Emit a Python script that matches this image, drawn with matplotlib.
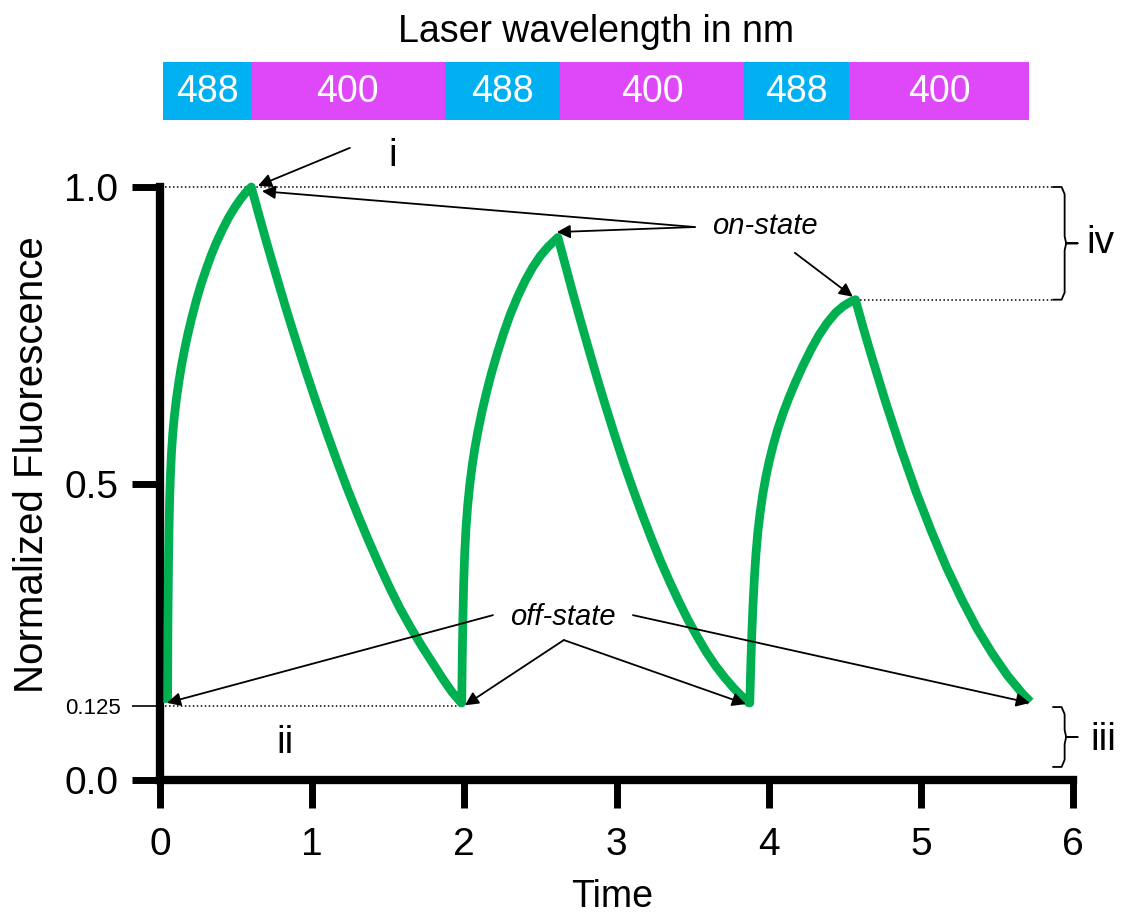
import matplotlib
matplotlib.use('Agg')
import matplotlib.pyplot as plt
import numpy as np

plt.rcParams['font.family'] = ['Liberation Sans', 'DejaVu Sans']

# ---------------- data ----------------
# 488 nm on: fluorescence rises ; 400 nm on: fluorescence decays
rise1_t = [0.050, 0.051, 0.052, 0.054, 0.056, 0.059, 0.063, 0.068, 0.075, 0.084, 0.095, 0.108, 0.123,
           0.140, 0.160, 0.183, 0.210, 0.240, 0.270, 0.300, 0.335, 0.370, 0.410, 0.450, 0.490, 0.530,
           0.565, 0.600]
rise1_f = [0.130, 0.200, 0.260, 0.320, 0.370, 0.420, 0.470, 0.510, 0.550, 0.585, 0.615, 0.643, 0.670,
           0.697, 0.724, 0.752, 0.781, 0.810, 0.836, 0.859, 0.884, 0.906, 0.928, 0.948, 0.965, 0.980,
           0.991, 1.000]
decay1_t = [0.60, 0.65, 0.70, 0.76, 0.82, 0.88, 0.95, 1.02, 1.09, 1.16, 1.23, 1.30, 1.37, 1.44, 1.51,
            1.58, 1.65, 1.72, 1.79, 1.86, 1.92, 1.98]
decay1_f = [1.000, 0.953, 0.907, 0.854, 0.802, 0.752, 0.696, 0.642, 0.590, 0.540, 0.492, 0.447, 0.404,
            0.363, 0.324, 0.288, 0.256, 0.226, 0.198, 0.170, 0.148, 0.130]
rise2_t = [1.983, 1.986, 1.990, 1.995, 2.002, 2.011, 2.022, 2.035, 2.050, 2.068, 2.090, 2.115, 2.143,
           2.175, 2.212, 2.255, 2.300, 2.350, 2.400, 2.450, 2.500, 2.550, 2.590, 2.615]
rise2_f = [0.130, 0.200, 0.265, 0.325, 0.380, 0.425, 0.463, 0.496, 0.527, 0.558, 0.589, 0.620, 0.651,
           0.683, 0.716, 0.751, 0.784, 0.815, 0.842, 0.865, 0.884, 0.899, 0.909, 0.915]
decay2_t = [2.615, 2.66, 2.71, 2.76, 2.81, 2.87, 2.93, 2.99, 3.05, 3.11, 3.17, 3.23, 3.29, 3.35, 3.41,
            3.47, 3.53, 3.59, 3.65, 3.71, 3.77, 3.82, 3.87]
decay2_f = [0.915, 0.872, 0.824, 0.778, 0.733, 0.680, 0.629, 0.580, 0.533, 0.489, 0.447, 0.407, 0.369,
            0.334, 0.301, 0.270, 0.242, 0.216, 0.193, 0.173, 0.155, 0.142, 0.130]
rise3_t = [3.876, 3.882, 3.889, 3.897, 3.906, 3.916, 3.928, 3.943, 3.960, 3.980, 4.003, 4.029, 4.059,
           4.094, 4.134, 4.178, 4.226, 4.278, 4.330, 4.385, 4.440, 4.490, 4.535, 4.570]
rise3_f = [0.130, 0.190, 0.245, 0.295, 0.340, 0.380, 0.416, 0.449, 0.480, 0.509, 0.537, 0.564, 0.591,
           0.618, 0.645, 0.672, 0.699, 0.726, 0.750, 0.771, 0.788, 0.799, 0.806, 0.810]
decay3_t = [4.57, 4.62, 4.67, 4.77, 4.87, 4.97, 5.07, 5.17, 5.27, 5.37, 5.47, 5.57, 5.67, 5.72]
decay3_f = [0.810, 0.764, 0.720, 0.636, 0.558, 0.485, 0.419, 0.358, 0.304, 0.255, 0.213, 0.176, 0.145, 0.132]

laser_edges = [0.02, 0.6, 1.87, 2.63, 3.84, 4.53, 5.71]
laser_labels = ['488', '400', '488', '400', '488', '400']
laser_colors = {'488': '#00B0F0', '400': '#DF48F8'}

x_ticks = [0, 1, 2, 3, 4, 5, 6]
y_ticks = [0.0, 0.5, 1.0]
y_ticklabels = ['0.0', '0.5', '1.0']
off_level = 0.125

GREEN = '#00B050'

fig = plt.figure(figsize=(11.28, 9.16), dpi=100)
ax = fig.add_axes([160/1128, 1-780/916, 913/1128, 593/916])

t = np.concatenate([rise1_t, decay1_t, rise2_t, decay2_t, rise3_t, decay3_t])
f = np.concatenate([rise1_f, decay1_f, rise2_f, decay2_f, rise3_f, decay3_f])
ax.plot(t, f, color=GREEN, lw=6.3, solid_joinstyle='round', solid_capstyle='butt',
        clip_on=False, zorder=3)

ax.set_xlim(0, 6)
ax.set_ylim(0, 1)
for s in ['top', 'right']:
    ax.spines[s].set_visible(False)
for s in ['left', 'bottom']:
    ax.spines[s].set_linewidth(6)

ax.set_xticks(x_ticks)
ax.set_xticklabels([str(v) for v in x_ticks])
ax.set_yticks(y_ticks)
ax.set_yticklabels(y_ticklabels)
ax.set_yticks([off_level], minor=True)
ax.set_yticklabels([str(off_level)], minor=True)
ax.tick_params(axis='both', which='major', direction='out', length=20, width=5, labelsize=28)
ax.tick_params(axis='x', which='major', pad=14)
ax.tick_params(axis='y', which='major', pad=10)
ax.tick_params(axis='y', which='minor', direction='out', length=20, width=1.2, labelsize=16, pad=8)
ax.tick_params(axis='x', which='minor', bottom=False)

fig.text(32/1128, 1-465/916, 'Normalized Fluorescence', rotation=90, ha='center', va='center', fontsize=29)
fig.text(612/1128, 1-897/916, 'Time', ha='center', va='center', fontsize=27)

# dotted reference lines
peak1 = max(rise1_f)
peak3 = max(rise3_f)
dot = dict(ls=(0, (1, 1.6)), lw=1.1, color='black', clip_on=False, zorder=2)
ax.plot([0.03, 5.88], [peak1, peak1], **dot)
ax.plot([4.6, 5.88], [peak3, peak3], **dot)
ax.plot([0.03, 1.98], [off_level, off_level], **dot)

# braces
def brace(top, bot, xl=5.87, xv=5.945, tip=6.03):
    mid = (top + bot) / 2
    d = 0.012
    xs = [xl, xv - 0.02, xv, xv, xv + 0.01, tip, xv + 0.01, xv, xv, xv - 0.02, xl]
    ys = [top, top, top - d, mid + d, mid, mid, mid, mid - d, bot + d, bot, bot]
    ax.plot(xs, ys, color='black', lw=1.3, clip_on=False, solid_joinstyle='round')

brace(peak1, peak3)
brace(0.123, 0.022)

ax.text(6.18, (peak1 + peak3) / 2, 'iv', fontsize=28, ha='center', va='center', clip_on=False)
ax.text(6.2, 0.068, 'iii', fontsize=28, ha='center', va='center', clip_on=False)
ax.text(1.531, 1.052, 'i', fontsize=28, ha='center', va='center', clip_on=False)
ax.text(0.821, 0.062, 'ii', fontsize=28, ha='center', va='center', clip_on=False)

ap = dict(arrowstyle='-|>', color='black', lw=1.3, mutation_scale=20, shrinkA=0, shrinkB=0, clip_on=False)

def arrow(tail, tip):
    ax.annotate('', xy=tip, xytext=tail, arrowprops=ap, annotation_clip=False, zorder=5)

arrow((1.248, 1.066), (0.644, 1.002))

ax.text(3.975, 0.934, 'on-state', fontsize=21, style='italic', ha='center', va='center')
arrow((3.515, 0.9325), (0.670, 0.993))
arrow((3.515, 0.9325), (2.608, 0.924))
arrow((4.172, 0.889), (4.553, 0.815))

ax.text(2.648, 0.275, 'off-state', fontsize=21, style='italic', ha='center', va='center')
arrow((2.188, 0.278), (0.046, 0.130))
arrow((2.654, 0.236), (2.004, 0.126))
arrow((2.654, 0.236), (3.85, 0.128))
arrow((3.108, 0.278), (5.716, 0.130))

# laser wavelength bar
bax = fig.add_axes([160/1128, 1-120/916, 913/1128, 58/916])
bax.set_xlim(0, 6)
bax.set_ylim(0, 1)
bax.axis('off')
for i, lab in enumerate(laser_labels):
    x0, x1 = laser_edges[i], laser_edges[i + 1]
    bax.barh(0.5, x1 - x0, left=x0, height=1.0, color=laser_colors[lab], edgecolor='none')
    bax.text((x0 + x1) / 2, 0.48, lab, color='white', fontsize=27, ha='center', va='center',
             family=['Liberation Sans Narrow', 'Liberation Sans', 'DejaVu Sans'])

fig.text(596/1128, 1-32/916, 'Laser wavelength in nm', ha='center', va='center', fontsize=27)

fig.savefig('out.png', dpi=100)
